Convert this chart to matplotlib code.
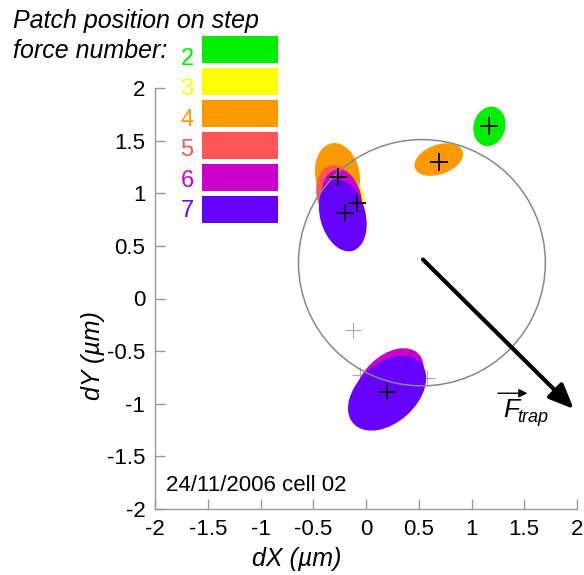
import matplotlib
matplotlib.use("Agg")
import matplotlib.pyplot as plt
from matplotlib.patches import Ellipse, Circle, Rectangle

plt.rcParams['font.family'] = ['Liberation Sans', 'DejaVu Sans']

# ---- data ----
step_labels = ['2', '3', '4', '5', '6', '7']
step_colors = ['#00EE00', '#FFFF00', '#FF9900', '#FF5555', '#CC00CC', '#6600FF']

ell_step = [4, 3, 5, 6, 7, 2, 4, 6, 7]
ell_x = [-0.27, -0.17, -0.28, -0.23, -0.22, 1.17, 0.69, 0.22, 0.20]
ell_y = [1.17, 0.93, 1.00, 0.93, 0.79, 1.635, 1.32, -0.80, -0.90]
ell_w = [0.62, 0.44, 0.54, 0.60, 0.70, 0.38, 0.48, 0.78, 0.86]
ell_h = [0.42, 0.32, 0.38, 0.38, 0.43, 0.30, 0.28, 0.50, 0.56]
ell_ang = [100, 100, 100, 100, 105, 75, 20, 45, 42]

plus_x = [1.165, 0.69, -0.265, -0.085, -0.20, 0.20]
plus_y = [1.638, 1.297, 1.154, 0.905, 0.81, -0.89]
gray_plus_x = [-0.12, -0.06, 0.58]
gray_plus_y = [-0.30, -0.73, -0.76]

circle_center = (0.53, 0.34)
circle_radius = 1.17
force_start = (0.54, 0.37)
force_end = (1.97, -1.05)

ticks = [-2, -1.5, -1, -0.5, 0, 0.5, 1, 1.5, 2]
tick_labels = ['-2', '-1.5', '-1', '-0.5', '0', '0.5', '1', '1.5', '2']

W, H = 584, 575
fig = plt.figure(figsize=(W / 100, H / 100), dpi=100)
ax = fig.add_axes([155 / W, 66 / H, 422 / W, 421 / H])
ax.set_xlim(-2, 2)
ax.set_ylim(-2, 2)

for s in ['top', 'right']:
    ax.spines[s].set_visible(False)
for s in ['left', 'bottom']:
    ax.spines[s].set_color('#999999')
    ax.spines[s].set_linewidth(1.0)
ax.set_xticks(ticks)
ax.set_xticklabels(tick_labels)
ax.set_yticks(ticks)
ax.set_yticklabels(tick_labels)
ax.tick_params(direction='in', length=7, width=1, color='#999999',
               labelsize=16, pad=7, labelcolor='black')

# gray pluses (behind)
ax.plot(gray_plus_x, gray_plus_y, '+', ms=11, mew=0.8, color='#aaaaaa', zorder=1)

for st, x, y, w, h, a in zip(ell_step, ell_x, ell_y, ell_w, ell_h, ell_ang):
    c = step_colors[step_labels.index(str(st))]
    ax.add_patch(Ellipse((x, y), w, h, angle=a, facecolor=c, edgecolor='none', zorder=2))

ax.add_patch(Circle(circle_center, circle_radius, fill=False, ec='#888888', lw=1.1, zorder=3))

ax.plot(plus_x, plus_y, '+', ms=13, mew=1.3, color='black', zorder=4)

ax.annotate('', xy=force_end, xytext=force_start,
            arrowprops=dict(arrowstyle='-|>,head_length=0.75,head_width=0.32',
                            lw=3.0, color='black', mutation_scale=20,
                            shrinkA=0, shrinkB=0), zorder=5)

# F_trap label
ax.text(1.30, -1.125, 'F', fontsize=19, style='italic', ha='left', va='baseline', zorder=5)
ax.text(1.43, -1.17, 'trap', fontsize=13, style='italic', ha='left', va='baseline', zorder=5)
ax.annotate('', xy=(1.53, -0.90), xytext=(1.25, -0.90),
            arrowprops=dict(arrowstyle='-|>,head_length=0.5,head_width=0.25',
                            lw=1.0, color='black', mutation_scale=10,
                            shrinkA=0, shrinkB=0))

fig.text(166 / W, 1 - 491 / H, '24/11/2006 cell 02', fontsize=16, ha='left', va='baseline')

# axis labels
fig.text(297 / W, 1 - 566 / H, 'dX (\u00b5m)', fontsize=18, style='italic', ha='center', va='baseline')
fig.text(93 / W, 1 - 356 / H, 'dY (\u00b5m)', fontsize=18, style='italic', rotation=90,
         ha='center', va='center')

# title
fig.text(13 / W, 1 - 28 / H, 'Patch position on step', fontsize=18, style='italic',
         ha='left', va='baseline')
fig.text(13 / W, 1 - 58 / H, 'force number:', fontsize=18, style='italic',
         ha='left', va='baseline')

# legend
for i, (lab, col) in enumerate(zip(step_labels, step_colors)):
    top = 36 + i * 32
    fig.add_artist(Rectangle((202 / W, 1 - (top + 27) / H), 76 / W, 27 / H,
                             transform=fig.transFigure, facecolor=col, edgecolor='none'))
    fig.text(187 / W, 1 - (65 + i * 30.4) / H, lab, fontsize=17, color=col,
             ha='center', va='baseline')

fig.savefig('out.png', dpi=100)
